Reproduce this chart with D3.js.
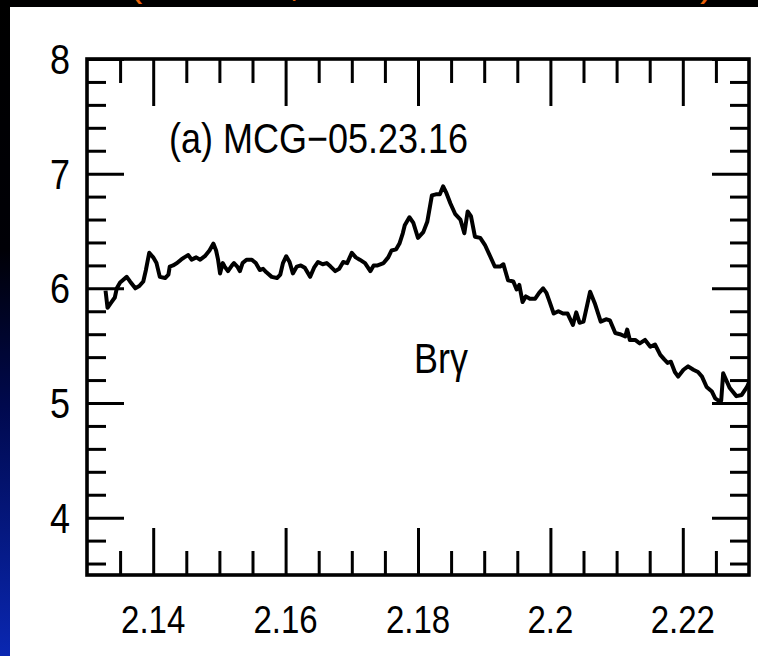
<!DOCTYPE html>
<html>
<head>
<meta charset="utf-8">
<script src="https://cdn.jsdelivr.net/npm/d3@7"></script>
<style>
  html, body { margin: 0; padding: 0; background: #000; }
  svg { display: block; }
  text { font-family: "Liberation Sans", Arial, Helvetica, sans-serif; fill: #000; }
</style>
</head>
<body>
<svg id="chart" width="758" height="656"></svg>
<script>
// Spectrum of MCG-05.23.16 around the Br-gamma line
const wavelength = [
  2.1328,2.1331,2.1337,2.1342,2.1345,2.1350,2.1354,2.1360,2.1365,2.1373,
  2.1379,2.1385,2.1389,2.1394,2.1400,2.1405,2.1410,2.1418,2.1423,2.1425,
  2.1430,2.1436,2.1442,2.1447,2.1453,2.1458,2.1465,2.1471,2.1478,2.1485,
  2.1491,2.1495,2.1498,2.1501,2.1505,2.1508,2.1513,2.1519,2.1522,2.1527,
  2.1531,2.1535,2.1541,2.1549,2.1555,2.1561,2.1566,2.1571,2.1579,2.1587,
  2.1592,2.1596,2.1601,2.1606,2.1611,2.1617,2.1623,2.1629,2.1637,2.1643,
  2.1649,2.1656,2.1662,2.1668,2.1675,2.1681,2.1687,2.1693,2.1700,2.1706,
  2.1712,2.1720,2.1728,2.1733,2.1739,2.1748,2.1755,2.1760,2.1767,2.1772,
  2.1777,2.1780,2.1787,2.1793,2.1800,2.1808,2.1814,2.1821,2.1827,2.1833,
  2.1838,2.1843,2.1849,2.1856,2.1864,2.1870,2.1875,2.1880,2.1886,2.1894,
  2.1901,2.1909,2.1916,2.1924,2.1929,2.1936,2.1944,2.1949,2.1953,2.1958,
  2.1963,2.1969,2.1977,2.1983,2.1989,2.1994,2.1999,2.2005,2.2012,2.2019,
  2.2026,2.2034,2.2039,2.2044,2.2050,2.2060,2.2067,2.2076,2.2084,2.2090,
  2.2098,2.2105,2.2113,2.2116,2.2120,2.2128,2.2135,2.2143,2.2151,2.2158,
  2.2166,2.2172,2.2177,2.2182,2.2188,2.2193,2.2201,2.2208,2.2216,2.2223,
  2.2229,2.2236,2.2244,2.2249,2.2254,2.2258,2.2261,2.2271,2.2281,2.2289,
  2.2297,2.2300
];
const flux = [
  5.98,5.83,5.88,5.92,6.00,6.05,6.07,6.10,6.06,6.00,
  6.02,6.06,6.16,6.31,6.27,6.22,6.10,6.09,6.12,6.19,
  6.20,6.22,6.25,6.27,6.29,6.25,6.27,6.25,6.28,6.33,
  6.39,6.33,6.25,6.13,6.22,6.19,6.15,6.20,6.22,6.19,
  6.15,6.22,6.25,6.25,6.22,6.16,6.17,6.14,6.10,6.09,
  6.12,6.22,6.28,6.23,6.13,6.19,6.20,6.18,6.10,6.18,
  6.23,6.21,6.22,6.19,6.15,6.17,6.23,6.22,6.31,6.27,
  6.25,6.22,6.15,6.20,6.20,6.22,6.27,6.33,6.34,6.39,
  6.48,6.55,6.62,6.57,6.44,6.49,6.58,6.81,6.82,6.82,
  6.89,6.83,6.74,6.65,6.60,6.48,6.67,6.63,6.45,6.44,
  6.38,6.28,6.19,6.19,6.21,6.07,6.06,5.99,6.03,5.88,
  5.93,5.91,5.91,5.96,6.00,5.96,5.88,5.78,5.80,5.78,
  5.78,5.68,5.79,5.70,5.71,5.97,5.87,5.71,5.73,5.72,
  5.61,5.60,5.58,5.64,5.55,5.55,5.52,5.55,5.49,5.51,
  5.42,5.38,5.35,5.36,5.27,5.23,5.29,5.32,5.29,5.27,
  5.23,5.14,5.10,5.04,5.02,5.02,5.26,5.13,5.06,5.07,
  5.14,5.18
];

// Axis ranges and tick values
const xDomain = [2.13, 2.23];
const yDomain = [3.5, 8];
const xMajorTicks = [2.14, 2.16, 2.18, 2.20, 2.22];
const xTickLabels = ["2.14", "2.16", "2.18", "2.2", "2.22"];
const xMinorTicks = [2.135, 2.145, 2.15, 2.155, 2.165, 2.17, 2.175, 2.185, 2.19, 2.195, 2.205, 2.21, 2.215, 2.225];
const yMajorTicks = [4, 5, 6, 7, 8];
const yTickLabels = ["4", "5", "6", "7", "8"];
const yMinorTicks = [3.6, 3.8, 4.2, 4.4, 4.6, 4.8, 5.2, 5.4, 5.6, 5.8, 6.2, 6.4, 6.6, 6.8, 7.2, 7.4, 7.6, 7.8];
const panelLabel = "(a) MCG\u221205.23.16";
const lineLabel = "Br\u03b3";

const W = 758, H = 656;
const plot = { left: 87, right: 749, top: 59, bottom: 575 };

const svg = d3.select("#chart");
const defs = svg.append("defs");

// slide background: black fading into blue towards the bottom
const grad = defs.append("linearGradient")
  .attr("id", "bg").attr("x1", 0).attr("y1", 0).attr("x2", 0).attr("y2", 1);
[[0, "#000000"], [0.38, "#000006"], [0.62, "#00094e"], [1, "#0a27b2"]]
  .forEach(([o, c]) => grad.append("stop").attr("offset", o).attr("stop-color", c));
svg.append("rect").attr("width", W).attr("height", H).attr("fill", "url(#bg)");

// slide heading (only its lower edge falls inside the view)
const heading = svg.append("g");
[["(", 129], [",", 289], [")", 700]].forEach(([ch, x]) => {
  heading.append("text").attr("x", x).attr("y", -4.5)
    .style("font-size", "40px").style("fill", "#e8620a").text(ch);
});

// white figure panel
svg.append("rect").attr("x", 10).attr("y", 7).attr("width", W - 10).attr("height", H - 7).attr("fill", "#fff");

const x = d3.scaleLinear().domain(xDomain).range([plot.left, plot.right]);
const y = d3.scaleLinear().domain(yDomain).range([plot.bottom, plot.top]);

defs.append("clipPath").attr("id", "plotclip").append("rect")
  .attr("x", plot.left).attr("y", plot.top)
  .attr("width", plot.right - plot.left).attr("height", plot.bottom - plot.top);

// spectrum
const line = d3.line().x((d, i) => x(wavelength[i])).y(d => y(d));
svg.append("path")
  .datum(flux)
  .attr("clip-path", "url(#plotclip)")
  .attr("d", line)
  .attr("fill", "none")
  .attr("stroke", "#000")
  .attr("stroke-width", 4)
  .attr("stroke-linejoin", "round");

// inward ticks on all four sides
function tickAxis(axisFn, scale, values, size, transform) {
  const g = svg.append("g").attr("transform", transform)
    .call(axisFn(scale).tickValues(values).tickSize(size).tickFormat(""));
  g.select(".domain").remove();
  g.selectAll(".tick line").attr("stroke", "#000").attr("stroke-width", 3);
  return g;
}
const xMinorLen = 24, xMajorLen = 47, yMinorLen = 19, yMajorLen = 37;
tickAxis(d3.axisBottom, x, xMinorTicks, -xMinorLen, `translate(0,${plot.bottom})`);
tickAxis(d3.axisBottom, x, xMajorTicks, -xMajorLen, `translate(0,${plot.bottom})`);
tickAxis(d3.axisTop, x, xMinorTicks, -xMinorLen, `translate(0,${plot.top})`);
tickAxis(d3.axisTop, x, xMajorTicks, -xMajorLen, `translate(0,${plot.top})`);
tickAxis(d3.axisLeft, y, yMinorTicks, -yMinorLen, `translate(${plot.left},0)`);
tickAxis(d3.axisLeft, y, yMajorTicks, -yMajorLen, `translate(${plot.left},0)`);
tickAxis(d3.axisRight, y, yMinorTicks, -yMinorLen, `translate(${plot.right},0)`);
tickAxis(d3.axisRight, y, yMajorTicks, -yMajorLen, `translate(${plot.right},0)`);

// frame
svg.append("rect")
  .attr("x", plot.left).attr("y", plot.top)
  .attr("width", plot.right - plot.left).attr("height", plot.bottom - plot.top)
  .attr("fill", "none").attr("stroke", "#000").attr("stroke-width", 3.6);

// text drawn slightly taller than wide
function label(g, tx, ty, str, size, sy, anchor) {
  g.append("text")
    .attr("transform", `translate(${tx},${ty}) scale(1,${sy})`)
    .attr("text-anchor", anchor)
    .style("font-size", size + "px")
    .text(str);
}

const labels = svg.append("g");
xMajorTicks.forEach((v, i) => label(labels, x(v), 633, xTickLabels[i], 33, 1.19, "middle"));
yMajorTicks.forEach((v, i) => label(labels, 70, y(v) + 15, yTickLabels[i], 36, 1.17, "end"));

label(labels, 169, 153, panelLabel, 36, 1.17, "start");
label(labels, 414, 373, lineLabel, 36, 1.17, "start");
</script>
</body>
</html>
